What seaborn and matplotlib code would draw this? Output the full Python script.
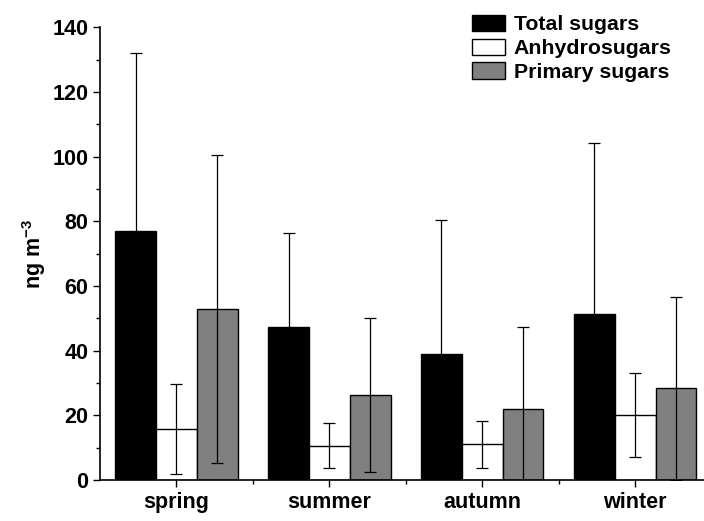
import numpy as np
import pandas as pd
import matplotlib.pyplot as plt
import seaborn as sns
from matplotlib.ticker import MultipleLocator, FixedLocator

seasons = ['spring', 'summer', 'autumn', 'winter']
series = ['Total sugars', 'Anhydrosugars', 'Primary sugars']
total = [76.9, 47.4, 39.1, 51.3]
total_sd = [55.0, 28.9, 41.3, 52.8]
anhydro = [15.7, 10.6, 11.0, 20.1]
anhydro_sd = [14.0, 7.0, 7.3, 13.0]
primary = [52.9, 26.3, 21.8, 28.3]
primary_sd = [47.6, 23.8, 25.6, 28.3]
colors = ['#000000', '#ffffff', '#808080']

df = pd.DataFrame({
    'season': seasons * 3,
    'type': np.repeat(series, 4),
    'value': total + anhydro + primary,
})
sds = [total_sd, anhydro_sd, primary_sd]
means = [total, anhydro, primary]

sns.set_style('ticks')
plt.rcParams['font.family'] = ['Liberation Sans', 'DejaVu Sans']
plt.rcParams['font.weight'] = 'bold'
plt.rcParams['mathtext.fontset'] = 'custom'
plt.rcParams['mathtext.rm'] = 'Liberation Sans:bold'
plt.rcParams['mathtext.bf'] = 'Liberation Sans:bold'
for k in ['text.color', 'axes.labelcolor', 'xtick.color', 'ytick.color']:
    plt.rcParams[k] = 'black'

fig = plt.figure(figsize=(7.04, 5.21), dpi=100)
ax = fig.add_axes([0.142, 0.0787, 0.858, 0.869])

sns.barplot(data=df, x='season', y='value', hue='type', palette=colors,
            edgecolor='black', linewidth=1.0, width=0.8, ax=ax, legend=True)

# error bars centred on the drawn bars
for cont, m, s in zip(ax.containers, means, sds):
    xs = [p.get_x() + p.get_width() / 2 for p in cont.patches]
    ax.errorbar(xs, m, yerr=s, fmt='none', ecolor='black', elinewidth=0.9,
                capsize=4, capthick=0.9, zorder=5)

ax.set_ylim(0, 140)
ax.set_xlim(-0.5, 3.45)
ax.yaxis.set_major_locator(MultipleLocator(20))
ax.yaxis.set_minor_locator(MultipleLocator(10))
ax.xaxis.set_minor_locator(FixedLocator([0.5, 1.5, 2.5]))
ax.tick_params(axis='both', which='major', length=5, width=1, labelsize=15.5,
               direction='out', colors='black')
ax.tick_params(axis='both', which='minor', length=3, width=1, direction='out', colors='black')
for lab in ax.get_xticklabels() + ax.get_yticklabels():
    lab.set_fontweight('bold')
ax.set_xlabel('')
ax.set_ylabel('ng m$^{-3}$', fontsize=15.5, fontweight='bold', labelpad=3)
ax.spines['top'].set_visible(False)
ax.spines['right'].set_visible(False)
for sp in ax.spines.values():
    sp.set_linewidth(1.2)
    sp.set_color('black')

leg = ax.legend(loc='upper right', bbox_to_anchor=(0.975, 1.0),
                bbox_transform=fig.transFigure, frameon=False,
                prop={'size': 15.3, 'weight': 'bold'}, handlelength=1.55,
                handleheight=0.8, labelspacing=0.2, handletextpad=0.4,
                borderaxespad=0.3)

fig.savefig('out.png', dpi=100)
